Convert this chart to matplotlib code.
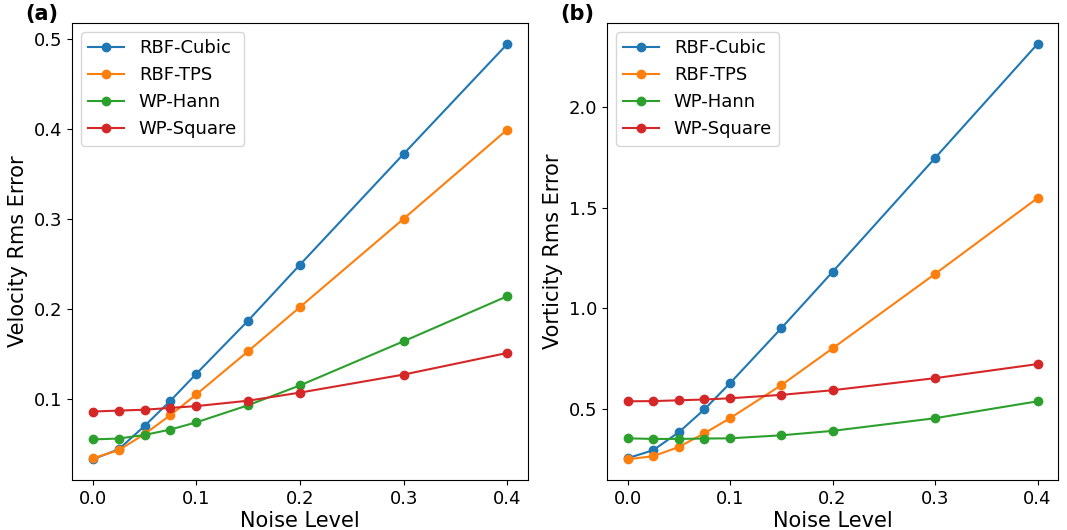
import matplotlib
matplotlib.use("Agg")
import matplotlib.pyplot as plt

noise = [0.0, 0.025, 0.05, 0.075, 0.1, 0.15, 0.2, 0.3, 0.4]
methods = ["RBF-Cubic", "RBF-TPS", "WP-Hann", "WP-Square"]

# velocity rms error, panel (a)
vel_cubic = [0.033, 0.044, 0.070, 0.098, 0.128, 0.187, 0.249, 0.372, 0.494]
vel_tps = [0.034, 0.043, 0.061, 0.082, 0.105, 0.153, 0.202, 0.300, 0.399]
vel_hann = [0.055, 0.056, 0.060, 0.066, 0.074, 0.093, 0.115, 0.164, 0.214]
vel_square = [0.086, 0.087, 0.088, 0.090, 0.092, 0.098, 0.107, 0.127, 0.151]

# vorticity rms error, panel (b)
vort_cubic = [0.254, 0.294, 0.383, 0.497, 0.627, 0.900, 1.180, 1.746, 2.313]
vort_tps = [0.249, 0.264, 0.310, 0.378, 0.453, 0.617, 0.800, 1.170, 1.547]
vort_hann = [0.353, 0.350, 0.350, 0.352, 0.353, 0.368, 0.390, 0.453, 0.537]
vort_square = [0.537, 0.538, 0.542, 0.546, 0.552, 0.569, 0.592, 0.652, 0.722]

fig = plt.figure(figsize=(10.67, 5.3), dpi=100)
ax1 = fig.add_axes([0.0675, 0.0943, 0.4274, 0.862])
ax2 = fig.add_axes([0.5689, 0.0943, 0.4227, 0.862])

panels = [
    (ax1, [vel_cubic, vel_tps, vel_hann, vel_square], "Velocity Rms Error", "(a)", 0.5, 0.4, 0.0),
    (ax2, [vort_cubic, vort_tps, vort_hann, vort_square], "Vorticity Rms Error", "(b)", 0.5, 0.0, 0.0),
]

for ax, series, ylab, tag, step, _, _ in panels:
    for name, vals in zip(methods, series):
        ax.plot(noise, vals, marker="o", label=name)
    ax.set_xlabel("Noise Level", fontsize=15, labelpad=2)
    ax.set_ylabel(ylab, fontsize=15)
    ax.tick_params(labelsize=13)
    ax.legend(fontsize=13, loc="upper left")
    ax.set_xticks([0.0, 0.1, 0.2, 0.3, 0.4])

ax1.set_yticks([0.1, 0.2, 0.3, 0.4, 0.5])
ax2.set_yticks([0.5, 1.0, 1.5, 2.0])

fig.text(0.024, 0.973, "(a)", fontsize=15, fontweight="bold", va="center")
fig.text(0.525, 0.973, "(b)", fontsize=15, fontweight="bold", va="center")

fig.savefig("out.png", dpi=100)
